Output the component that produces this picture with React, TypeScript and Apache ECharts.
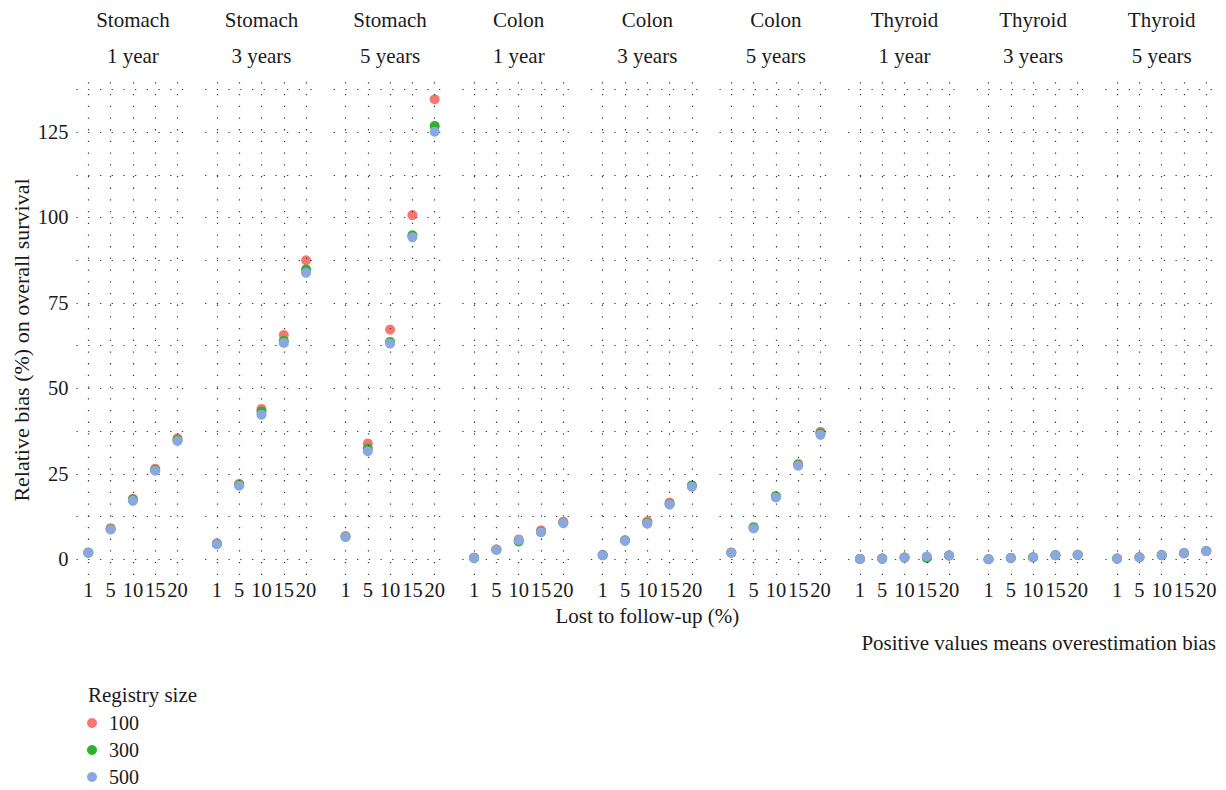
import { useEffect, useRef } from 'react';
import * as echarts from 'echarts';

// Facets: cancer site × survival horizon
const sites = ['Stomach', 'Colon', 'Thyroid'];
const horizons = ['1 year', '3 years', '5 years'];
// Proportion lost to follow-up (%)
const lossToFollowUp = ['1', '5', '10', '15', '20'];
// Registry sizes and their colours
const registrySizes = ['100', '300', '500'];
const sizeColors = ['#F8766D', '#2BB32B', '#8AA7DF'];

const yTickValues = [0, 25, 50, 75, 100, 125];
const yGridValues = [0, 12.5, 25, 37.5, 50, 62.5, 75, 87.5, 100, 112.5, 125, 137.5];

// Relative bias (%) on overall survival; rows follow the facet order
// Stomach 1/3/5 y, Colon 1/3/5 y, Thyroid 1/3/5 y
const biasSize100 = [
  [2.0, 9.1, 17.7, 26.5, 35.4],
  [4.7, 22.1, 44.0, 65.6, 87.5],
  [6.8, 33.9, 67.2, 100.7, 134.6],
  [0.5, 2.9, 5.8, 8.5, 11.0],
  [1.3, 5.6, 11.1, 16.6, 21.5],
  [2.0, 9.2, 18.3, 27.9, 37.3],
  [0.1, 0.2, 0.5, 0.7, 1.1],
  [0.0, 0.4, 0.6, 1.2, 1.3],
  [0.2, 0.6, 1.2, 1.8, 2.4],
];
const biasSize300 = [
  [1.9, 8.8, 17.5, 26.1, 34.9],
  [4.5, 21.8, 43.2, 63.9, 84.8],
  [6.6, 32.4, 63.6, 94.8, 126.8],
  [0.4, 2.8, 5.2, 8.0, 10.7],
  [1.2, 5.5, 10.6, 16.2, 21.6],
  [1.9, 9.4, 18.5, 27.6, 36.9],
  [0.1, 0.2, 0.5, 0.4, 1.1],
  [0.0, 0.4, 0.6, 1.2, 1.3],
  [0.2, 0.6, 1.2, 1.8, 2.4],
];
const biasSize500 = [
  [1.9, 8.7, 17.1, 25.9, 34.6],
  [4.4, 21.5, 42.3, 63.3, 83.8],
  [6.5, 31.6, 63.1, 94.2, 125.1],
  [0.4, 2.8, 5.6, 7.9, 10.6],
  [1.2, 5.4, 10.4, 16.0, 21.2],
  [1.9, 9.0, 18.1, 27.4, 36.4],
  [0.1, 0.2, 0.5, 0.8, 1.1],
  [0.0, 0.4, 0.6, 1.2, 1.3],
  [0.2, 0.6, 1.2, 1.8, 2.4],
];
const biasBySize = [biasSize100, biasSize300, biasSize500];

const FONT = 'Liberation Serif';
const TEXT_COLOR = '#1a1a1a';
const GRID_COLOR = '#3a3a3a';
const TITLE_SIZE = 21;
const TICK_SIZE = 20.5;

// Panel geometry (px)
const PANEL_LEFT = 76.5;
const PANEL_STEP = 128.6;
const PANEL_WIDTH = 112.8;
const PANEL_TOP = 76.5;
const PANEL_BOTTOM = 575;
const X_MIN = -0.53;
const X_MAX = 4.53;
const Y_MIN = -4.6;
const Y_MAX = 141.25;

const textStyle = (text: string, align: 'left' | 'center' | 'right', size = TITLE_SIZE) => ({
  text,
  font: `${size}px ${FONT}`,
  fill: TEXT_COLOR,
  textAlign: align,
  textVerticalAlign: 'middle',
});

function buildOption(): echarts.EChartsOption {
  const panels: { site: string; horizon: string }[] = [];
  sites.forEach((site) => horizons.forEach((horizon) => panels.push({ site, horizon })));

  const grid: any[] = [];
  const xAxis: any[] = [];
  const yAxis: any[] = [];
  const series: any[] = [];
  const graphic: any[] = [];

  panels.forEach((panel, p) => {
    const left = PANEL_LEFT + p * PANEL_STEP;
    grid.push({
      left,
      width: PANEL_WIDTH,
      top: PANEL_TOP,
      height: PANEL_BOTTOM - PANEL_TOP,
      outerBoundsMode: 'none',
    });
    xAxis.push({
      type: 'value',
      gridIndex: p,
      min: X_MIN,
      max: X_MAX,
      axisLine: { show: false },
      axisTick: { show: false },
      splitLine: { show: false },
      axisLabel: {
        customValues: lossToFollowUp.map((_, i) => i),
        formatter: (v: number) => lossToFollowUp[Math.round(v)] ?? '',
        fontFamily: FONT,
        fontSize: TICK_SIZE,
        color: TEXT_COLOR,
        margin: 4,
      },
    });
    yAxis.push({
      type: 'value',
      gridIndex: p,
      min: Y_MIN,
      max: Y_MAX,
      axisLine: { show: false },
      axisTick: { show: false },
      splitLine: { show: false },
      axisLabel: {
        show: p === 0,
        customValues: yTickValues,
        fontFamily: FONT,
        fontSize: TICK_SIZE,
        color: TEXT_COLOR,
        margin: 8,
      },
    });

    // dotted major/minor grid lines of the panel
    series.push({
      type: 'scatter',
      xAxisIndex: p,
      yAxisIndex: p,
      data: [],
      silent: true,
      z: 1,
      markLine: {
        silent: true,
        symbol: 'none',
        label: { show: false },
        emphasis: { disabled: true },
        lineStyle: { type: [1.3, 10.4], color: GRID_COLOR, width: 1.2 },
        data: [
          ...yGridValues.map((v) => ({ yAxis: v })),
          ...lossToFollowUp.map((_, i) => ({ xAxis: i })),
        ],
      },
    });

    registrySizes.forEach((size, k) => {
      series.push({
        type: 'scatter',
        name: size,
        xAxisIndex: p,
        yAxisIndex: p,
        symbol: 'circle',
        symbolSize: 10,
        z: 3 + k,
        itemStyle: { color: sizeColors[k], opacity: 1 },
        emphasis: { disabled: true },
        data: biasBySize[k][p].map((v, i) => [i, v]),
      });
    });

    const cx = left + PANEL_WIDTH / 2;
    graphic.push(
      { type: 'text', x: cx, y: 20, style: textStyle(panel.site, 'center') },
      { type: 'text', x: cx, y: 56, style: textStyle(panel.horizon, 'center') },
    );
  });

  const panelsRight = PANEL_LEFT + (panels.length - 1) * PANEL_STEP + PANEL_WIDTH;

  graphic.push(
    {
      type: 'text',
      x: (PANEL_LEFT + panelsRight) / 2,
      y: 616,
      style: textStyle('Lost to follow-up (%)', 'center'),
    },
    {
      type: 'text',
      x: 21,
      y: 340,
      rotation: Math.PI / 2,
      style: textStyle('Relative bias (%) on overall survival', 'center', 22),
    },
    {
      type: 'text',
      x: 1216,
      y: 643,
      style: textStyle('Positive values means overestimation bias', 'right'),
    },
    {
      type: 'text',
      x: 88,
      y: 695,
      style: textStyle('Registry size', 'left'),
    },
  );

  return {
    animation: false,
    backgroundColor: '#ffffff',
    grid,
    xAxis,
    yAxis,
    series,
    graphic,
    legend: {
      data: registrySizes,
      orient: 'vertical',
      left: 87,
      top: 713,
      padding: 0,
      icon: 'circle',
      itemWidth: 10,
      itemHeight: 10,
      itemGap: 7,
      selectedMode: false,
      textStyle: {
        fontFamily: FONT,
        fontSize: 20,
        lineHeight: 20,
        color: TEXT_COLOR,
        padding: [0, 0, 0, 7],
      },
    },
  };
}

export default function App() {
  const ref = useRef<HTMLDivElement>(null);

  useEffect(() => {
    if (!ref.current) return;
    const chart = echarts.init(ref.current, undefined, { renderer: 'svg' });
    chart.setOption(buildOption());
    return () => chart.dispose();
  }, []);

  return (
    <div
      ref={ref}
      style={{ position: 'absolute', left: 0, top: 0, width: 1226, height: 790, background: '#fff' }}
    />
  );
}
